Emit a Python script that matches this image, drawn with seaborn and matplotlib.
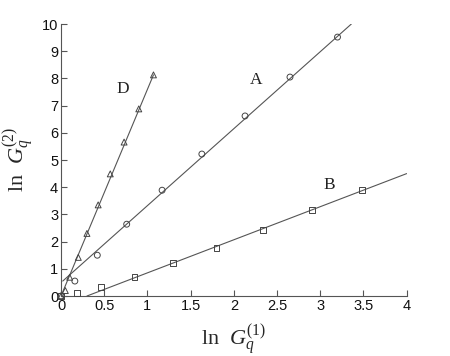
import numpy as np
import pandas as pd
import matplotlib
matplotlib.use("Agg")
import matplotlib.pyplot as plt
import seaborn as sns

# measured points
d_x = [0.0, 0.05, 0.10, 0.20, 0.30, 0.43, 0.57, 0.73, 0.90, 1.07]
d_y = [0.0, 0.20, 0.69, 1.42, 2.30, 3.35, 4.49, 5.66, 6.88, 8.13]
a_x = [0.0, 0.16, 0.42, 0.76, 1.17, 1.63, 2.13, 2.65, 3.20]
a_y = [0.0, 0.55, 1.50, 2.64, 3.89, 5.22, 6.62, 8.05, 9.52]
b_x = [0.0, 0.18, 0.46, 0.85, 1.30, 1.80, 2.34, 2.91, 3.48]
b_y = [0.0, 0.10, 0.32, 0.70, 1.20, 1.78, 2.43, 3.15, 3.89]

# fitted lines (end points)
fit_d_x = [0.0, 1.07]
fit_d_y = [0.0, 8.13]
fit_a_x = [0.02, 3.36]
fit_a_y = [0.55, 10.0]
fit_b_x = [0.30, 4.0]
fit_b_y = [0.0, 4.5]

labels = ["D", "A", "B"]
label_x = [0.72, 2.26, 3.11]
label_y = [7.6, 7.95, 4.1]

pts = pd.concat([
    pd.DataFrame({"x": d_x, "y": d_y, "set": "D"}),
    pd.DataFrame({"x": a_x, "y": a_y, "set": "A"}),
    pd.DataFrame({"x": b_x, "y": b_y, "set": "B"}),
])
fits = pd.concat([
    pd.DataFrame({"x": fit_d_x, "y": fit_d_y, "set": "D"}),
    pd.DataFrame({"x": fit_a_x, "y": fit_a_y, "set": "A"}),
    pd.DataFrame({"x": fit_b_x, "y": fit_b_y, "set": "B"}),
])

sns.set_style("ticks")
plt.rcParams["font.family"] = ["Liberation Sans", "DejaVu Sans"]
plt.rcParams["mathtext.fontset"] = "custom"
plt.rcParams["mathtext.rm"] = "Liberation Serif"
plt.rcParams["mathtext.it"] = "Liberation Serif:italic"

fig = plt.figure(figsize=(4.5, 3.56), dpi=100)
ax = fig.add_axes([0.1356, 0.1685, 0.768, 0.764])

ink = "#444444"
sns.lineplot(data=fits, x="x", y="y", units="set", estimator=None,
             color="#555555", linewidth=0.8, ax=ax, legend=False)
sns.scatterplot(data=pts, x="x", y="y", style="set",
                markers={"D": "^", "A": "o", "B": "s"},
                s=18, facecolor="none", edgecolor=ink,
                linewidth=0.7, ax=ax, legend=False, clip_on=False, zorder=3)

for t, lx, ly in zip(labels, label_x, label_y):
    ax.text(lx, ly, t, family="Liberation Serif", fontsize=12.5,
            ha="center", va="center", color="#222222")

ax.set_xlim(0, 4)
ax.set_ylim(0, 10)
ax.set_xticks(np.arange(0, 4.01, 0.5))
ax.set_xticklabels(["0", "0.5", "1", "1.5", "2", "2.5", "3", "3.5", "4"])
ax.set_yticks(range(0, 11))
ax.tick_params(direction="in", length=4, width=0.8, labelsize=10.5,
               color="#555555", labelcolor="#111111", pad=2)
for s in ["left", "bottom"]:
    ax.spines[s].set_color("#555555")
    ax.spines[s].set_linewidth(0.8)
sns.despine(ax=ax)

ax.set_xlabel(r"$\mathrm{ln}\ \ G_q^{\mathit{(1)}}$", fontsize=16, labelpad=7)
ax.set_ylabel(r"$\mathrm{ln}\ \ G_q^{\mathit{(2)}}$", fontsize=16, labelpad=4)

fig.savefig("out.png", dpi=100)
